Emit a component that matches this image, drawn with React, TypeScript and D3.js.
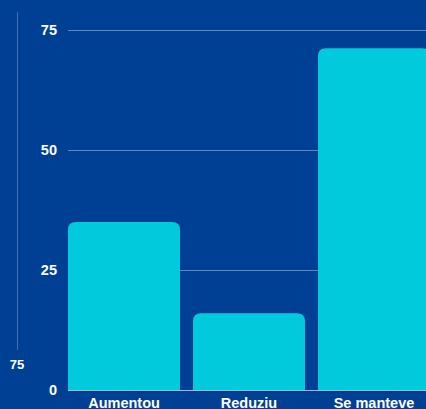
import React from "react";
import * as d3 from "d3";

const categories = ["Aumentou", "Reduziu", "Se manteve"];
const values = [35, 16, 71.2];
const yTicks = [0, 25, 50, 75];
const sliderLabel = "75";

const W = 426;
const H = 409;
const BG = "#004094";
const BAR = "#00CADC";

function roundedTopBar(x: number, y: number, w: number, h: number, r: number) {
  const rr = Math.min(r, h, w / 2);
  return `M${x},${y + h}V${y + rr}Q${x},${y} ${x + rr},${y}H${x + w - rr}Q${x + w},${y} ${x + w},${y + rr}V${y + h}Z`;
}

export default function App() {
  const x = d3
    .scaleBand<string>()
    .domain(categories)
    .range([68, 68 + 3 * 125 - 13])
    .paddingInner(13 / 125)
    .paddingOuter(0);
  const y = d3.scaleLinear().domain([0, 75]).range([390, 30]);
  const font = "'Liberation Sans', Arial, sans-serif";
  const fs = 14.5;
  return (
    <div style={{ position: "fixed", left: 0, top: 0, width: W, height: H, background: BG }}>
      <svg width={W} height={H} style={{ display: "block" }}>
        <rect width={W} height={H} fill={BG} />
        <line x1={17.5} x2={17.5} y1={12} y2={350} stroke="rgba(255,255,255,0.25)" strokeWidth={1} />
        <text x={17} y={364} dy="0.35em" textAnchor="middle" fill="#fff" fontFamily={font} fontWeight="bold" fontSize={13}>
          {sliderLabel}
        </text>
        {yTicks.map((t) => (
          <g key={t}>
            {t !== 0 && (
              <line x1={68} x2={W} y1={y(t) + 0.5} y2={y(t) + 0.5} stroke="rgba(255,255,255,0.38)" strokeWidth={1} />
            )}
            <text x={57} y={y(t)} dy="0.35em" textAnchor="end" fill="#fff" fontFamily={font} fontWeight="bold" fontSize={fs}>
              {t}
            </text>
          </g>
        ))}
        <line x1={68} x2={W} y1={390.5} y2={390.5} stroke="#a9b6cc" strokeWidth={1} />
        {categories.map((c, i) => (
          <path
            key={c}
            d={roundedTopBar(x(c)!, y(values[i]), x.bandwidth(), y(0) - y(values[i]), 8)}
            fill={BAR}
          />
        ))}
        {categories.map((c) => (
          <text
            key={c}
            x={x(c)! + x.bandwidth() / 2}
            y={408}
            textAnchor="middle"
            fill="#fff"
            fontFamily={font}
            fontWeight="bold"
            fontSize={fs}
          >
            {c}
          </text>
        ))}
      </svg>
    </div>
  );
}
